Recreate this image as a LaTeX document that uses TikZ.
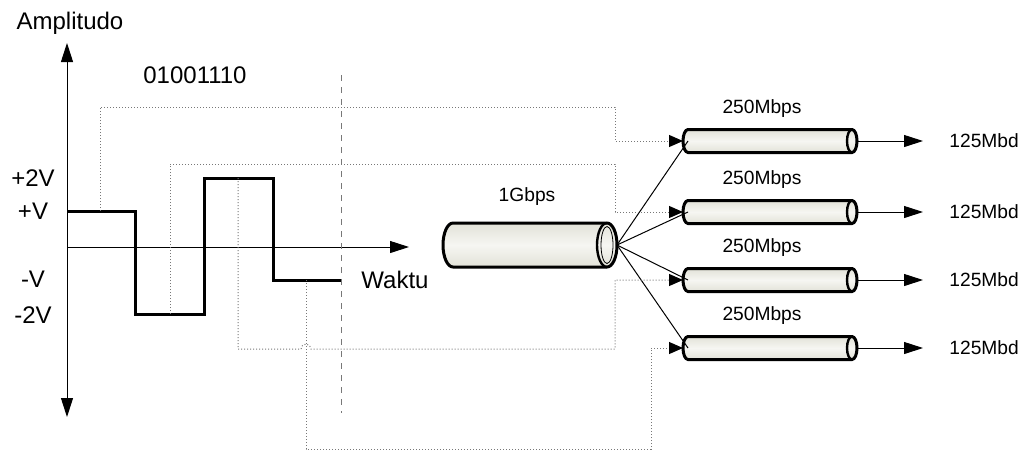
\documentclass[tikz,border=0pt]{standalone}
\usepackage{fontspec}
\setmainfont{Liberation Sans}
\definecolor{tubedark}{RGB}{226,226,216}
\definecolor{tubelight}{RGB}{246,246,242}
\definecolor{tapgray}{RGB}{120,120,120}
\usepackage{tikz}
\usetikzlibrary{arrows.meta,calc}

% #1 node, #2 x radius of the end, #3 half height
\newcommand{\drawtube}[3]{%
  \draw[line width=1.5pt, top color=tubedark, bottom color=tubedark, middle color=tubelight]
    ([xshift=#2]#1.north west) -- ([xshift=-#2]#1.north east)
    arc[start angle=90, end angle=-90, x radius=#2, y radius=#3]
    -- ([xshift=#2]#1.south west)
    arc[start angle=270, end angle=90, x radius=#2, y radius=#3] -- cycle;
  \draw[line width=1.2pt] ([xshift=-#2]#1.north east)
    arc[start angle=90, end angle=270, x radius=#2, y radius=#3];}

\begin{document}
\begin{tikzpicture}[x=0.5pt, y=-0.5pt,
    bigfont/.style={font=\fontsize{12}{14}\selectfont, inner sep=0pt},
    smallfont/.style={font=\fontsize{9.6}{11}\selectfont, inner sep=0pt},
    axis/.style={line width=0.5pt, -{Triangle[length=9.5pt, width=6pt]}},
    signal/.style={line width=1.5pt},
    tap/.style={tapgray, line width=0.5pt, densely dotted,
                -{Triangle[length=7pt, width=6pt, color=black]}},
    tubenode/.style={rectangle, inner sep=0pt, outer sep=0pt, minimum width=87pt}]
  \useasboundingbox (0,0) rectangle (1026,451);

  % axes and levels
  \coordinate (o) at (67,247);
  \draw[axis] (o) -- (67,43);
  \draw[axis] (o) -- (67,417);
  \draw[axis] (o) -- (409,247);
  \node[bigfont] (amp) at (70,23) {Amplitudo};
  \node[bigfont] (bits) at (195,75) {01001110};
  \node[bigfont] (p2v) at (33,178) {+2V};
  \node[bigfont] (pv) at (33,211) {+V};
  \node[bigfont] (mv) at (33,279) {-V};
  \node[bigfont] (m2v) at (33,315) {-2V};
  \node[bigfont] (waktu) at (395,280) {Waktu};
  \draw[tapgray, line width=0.5pt, dashed] (341,75) -- (341,413);

  % 2B1Q signal
  \draw[signal] (67,211) -- (135,211) -- (135,314) -- (204,314) -- (204,178)
      -- (273,178) -- (273,280) -- (341,280);
  \coordinate (t1) at (100,211);
  \coordinate (t2) at (170,314);
  \coordinate (t3) at (238,178);
  \coordinate (t4) at (306,280);

  % links
  \node[tubenode, minimum height=22pt] (link) at (530,245) {};
  \drawtube{link}{5pt}{11pt}
  \draw[line width=0.4pt] ([xshift=-5pt]link.east) ellipse[x radius=3pt, y radius=9.25pt];
  \node[smallfont] (gbps) at (527,197) {1Gbps};
  \foreach \i/\y in {1/141, 2/212, 3/280, 4/348} {
    \node[tubenode, minimum height=11.5pt] (ch\i) at (770,\y) {};
    \drawtube{ch\i}{2.5pt}{5.75pt}
    \node[smallfont] (rate\i) at (762,\y-32) {250Mbps};
    \node[smallfont, anchor=west] (baud\i) at (949,\y) {125Mbd};
    \draw[line width=0.5pt] (link.east) -- ([xshift=2.5pt]ch\i.west);
    \draw[axis] (ch\i.east) -- ([xshift=-13pt]baud\i.west);
  }

  % taps to the channels
  \draw[tap] (t1) |- (615,107) |- (ch1.west);
  \draw[tap] (t2) |- (615,164) |- (ch2.west);
  \draw[tap] (t3) |- (301,349) arc[start angle=180, end angle=0, radius=2.5pt]
      -- (615,349) |- (ch3.west);
  \draw[tap] (t4) |- (651,449) |- (ch4.west);
\end{tikzpicture}
\end{document}
